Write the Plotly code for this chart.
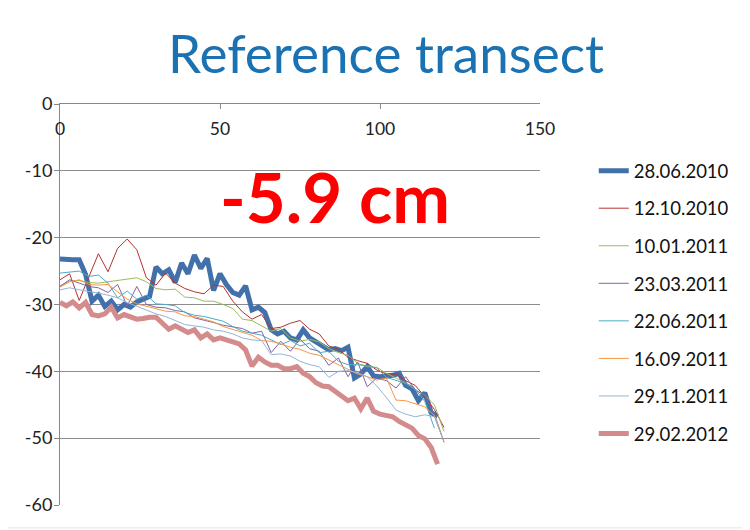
import plotly.graph_objects as go

# ---- data ----
x_thick = list(range(0, 119, 2))   # 0..118 step 2
x_thin = list(range(0, 121, 3))    # 0..120 step 3
x_teal = list(range(0, 118, 3))    # 0..117 step 3

s_28_06_2010 = [-23.2, -23.3, -23.3, -23.3, -25.5, -29.5, -28.6, -30.3, -29.5, -30.8,
                -30.0, -30.4, -29.6, -29.2, -28.8, -24.4, -25.4, -24.8, -26.7, -23.8,
                -25.4, -22.6, -24.6, -23.1, -27.9, -25.4, -27.0, -28.2, -28.6, -27.2,
                -30.8, -30.4, -31.2, -33.8, -34.4, -34.0, -35.0, -35.3, -33.8, -35.0,
                -35.6, -36.3, -36.8, -36.6, -36.9, -36.4, -41.0, -40.4, -39.3, -40.7,
                -40.8, -40.7, -40.6, -40.3, -42.1, -42.6, -44.4, -43.2, -46.2, -46.7]

s_12_10_2010 = [-26.3, -25.4, -29.4, -25.8, -22.4, -25.1, -21.6, -20.2, -21.8, -26.0,
                -27.1, -25.3, -26.8, -27.6, -28.1, -28.4, -27.1, -27.3, -29.5, -31.1,
                -32.2, -31.5, -33.6, -33.4, -32.8, -32.4, -33.7, -34.4, -36.2, -36.7,
                -37.9, -38.4, -38.8, -39.8, -40.4, -40.4, -41.4, -42.1, -43.8, -45.7, -48.4]

s_10_01_2011 = [-27.2, -26.5, -26.4, -26.7, -26.8, -26.6, -26.4, -26.1, -26.0, -26.6,
                -27.6, -27.8, -27.7, -28.9, -29.0, -29.5, -29.5, -30.0, -30.6, -32.2,
                -32.4, -33.2, -34.0, -33.6, -35.0, -35.5, -35.2, -35.6, -36.6, -37.2,
                -37.6, -38.8, -39.3, -39.4, -40.3, -41.0, -41.7, -42.7, -43.6, -45.0, -49.0]

s_23_03_2011 = [-27.3, -26.3, -26.8, -27.3, -27.5, -28.2, -27.0, -30.2, -27.3, -30.0,
                -30.4, -30.5, -30.9, -31.1, -32.0, -32.3, -32.7, -33.1, -33.3, -33.6,
                -34.3, -34.0, -37.2, -35.5, -37.0, -35.2, -36.6, -37.0, -39.1, -38.0,
                -40.8, -38.6, -42.3, -41.0, -41.4, -42.5, -40.8, -42.8, -43.6, -46.4, -50.6]

s_22_06_2011 = [-25.3, -25.1, -25.0, -25.8, -25.6, -26.8, -29.0, -28.0, -29.2, -28.6,
                -29.9, -30.0, -30.2, -31.2, -31.6, -31.8, -32.2, -32.5, -33.3, -34.0,
                -34.3, -34.6, -35.3, -36.0, -35.4, -36.2, -35.8, -37.2, -37.0, -38.5,
                -39.0, -39.0, -39.2, -39.5, -40.9, -41.3, -41.8, -42.7, -44.5, -48.5]

s_16_09_2011 = [-27.4, -26.6, -26.3, -27.0, -27.1, -27.0, -28.1, -29.2, -29.9, -30.3,
                -30.6, -31.0, -31.1, -31.7, -31.8, -32.2, -32.6, -33.3, -33.7, -34.2,
                -34.6, -35.4, -35.5, -35.9, -36.4, -36.7, -37.3, -37.6, -38.3, -39.0,
                -39.7, -40.4, -40.8, -41.3, -41.0, -44.3, -44.4, -44.8, -45.3, -46.6, -50.6]

s_29_11_2011 = [-27.8, -27.5, -27.8, -28.0, -28.3, -28.6, -29.0, -29.7, -30.3, -30.8,
                -31.4, -31.8, -32.4, -33.0, -33.2, -33.4, -33.8, -34.0, -34.4, -35.0,
                -35.3, -35.4, -37.5, -37.4, -37.7, -38.5, -39.0, -39.3, -40.9, -40.0,
                -39.9, -40.2, -40.8, -42.2, -43.9, -45.8, -46.4, -46.8, -46.5, -46.8, -50.6]

s_29_02_2012 = [-29.7, -30.2, -29.6, -30.5, -29.7, -31.5, -31.7, -31.4, -30.4, -32.0,
                -31.5, -31.8, -32.2, -32.1, -31.9, -31.9, -32.8, -33.7, -33.2, -33.8,
                -34.2, -33.8, -35.0, -34.4, -35.3, -35.0, -35.4, -35.6, -35.9, -36.8,
                -39.2, -37.9, -38.6, -39.1, -39.1, -39.6, -39.6, -39.3, -40.3, -40.8,
                -41.7, -42.2, -42.3, -43.0, -43.6, -44.4, -44.0, -45.6, -44.0, -46.0,
                -46.4, -46.6, -46.8, -47.5, -48.0, -48.5, -49.6, -50.1, -51.4, -53.9]

x_ticks = [0, 50, 100, 150]
y_ticks = [0, -10, -20, -30, -40, -50, -60]
y_tick_labels = ["0", "-10", "-20", "-30", "-40", "-50", "-60"]
title_text = "Reference transect"
note_text = "-5.9 cm"

series = [
    ("28.06.2010", x_thick, s_28_06_2010, "#4170ab", 5),
    ("12.10.2010", x_thin, s_12_10_2010, "#b8312f", 1),
    ("10.01.2011", x_thin, s_10_01_2011, "#9bbb59", 1),
    ("23.03.2011", x_thin, s_23_03_2011, "#8064a2", 1),
    ("22.06.2011", x_teal, s_22_06_2011, "#4bacc6", 1),
    ("16.09.2011", x_thin, s_16_09_2011, "#f79646", 1),
    ("29.11.2011", x_thin, s_29_11_2011, "#95b3d7", 1),
    ("29.02.2012", x_thick, s_29_02_2012, "#d38b8b", 5),
]

FONT = "Lato"

fig = go.Figure()
for i, (name, xs, ys, col, w) in enumerate(series):
    fig.add_trace(go.Scatter(
        x=xs, y=ys, mode="lines", name=name,
        line=dict(color=col, width=w),
        legendgroup=f"g{i}",
    ))

fig.update_layout(
    width=750, height=530,
    paper_bgcolor="white", plot_bgcolor="white",
    margin=dict(l=52, r=218, t=96, b=33, autoexpand=False),
    font=dict(family=FONT, size=17, color="#222222"),
    title=dict(text=title_text, font=dict(family=FONT, size=53, color="#1a72b2"),
               x=(386 - 60) / 480, xref="paper", xanchor="center",
               y=1 - 46 / 530, yref="container", yanchor="middle"),
    showlegend=True,
    legend=dict(x=1.112, xanchor="left", y=0.88, yanchor="top", yref="paper",
                font=dict(family=FONT, size=18.5, color="#111111"),
                tracegroupgap=10.5, bgcolor="rgba(0,0,0,0)"),
    xaxis=dict(range=[0, 150], tickvals=x_ticks, side="top",
               ticks="inside", ticklen=5, tickcolor="#888888",
               ticklabelposition="inside", ticklabeloverflow="allow",
               ticklabelstandoff=14,
               showline=True, linecolor="#888888", linewidth=1,
               showgrid=False, zeroline=False, automargin=False,
               tickfont=dict(family=FONT, size=17.5, color="#222222")),
    yaxis=dict(range=[-60, 0], tickvals=y_ticks, ticktext=y_tick_labels,
               ticks="outside", ticklen=5, ticklabeloverflow="allow",
               ticklabelstandoff=-2,
               tickcolor="#888888",
               showline=True, linecolor="#888888", linewidth=1,
               showgrid=True, gridcolor="#8c8c8c", gridwidth=1, zeroline=False,
               automargin=False,
               tickfont=dict(family=FONT, size=18, color="#222222")),
    annotations=[dict(text=f"<b>{note_text}</b>", x=86, y=-13.9, xref="x", yref="y",
                      showarrow=False, font=dict(family=FONT, size=69, color="#ff0000"))],
    shapes=[
        dict(type="line", xref="paper", yref="paper", x0=1.431, x1=1.431,
             y0=-0.057, y1=1.227, line=dict(color="#e6e6e6", width=1)),
        dict(type="line", xref="paper", yref="paper", x0=-0.2, x1=1.431,
             y0=-0.057, y1=-0.057, line=dict(color="#e6e6e6", width=1)),
    ],
)

fig.write_html("out.html")
